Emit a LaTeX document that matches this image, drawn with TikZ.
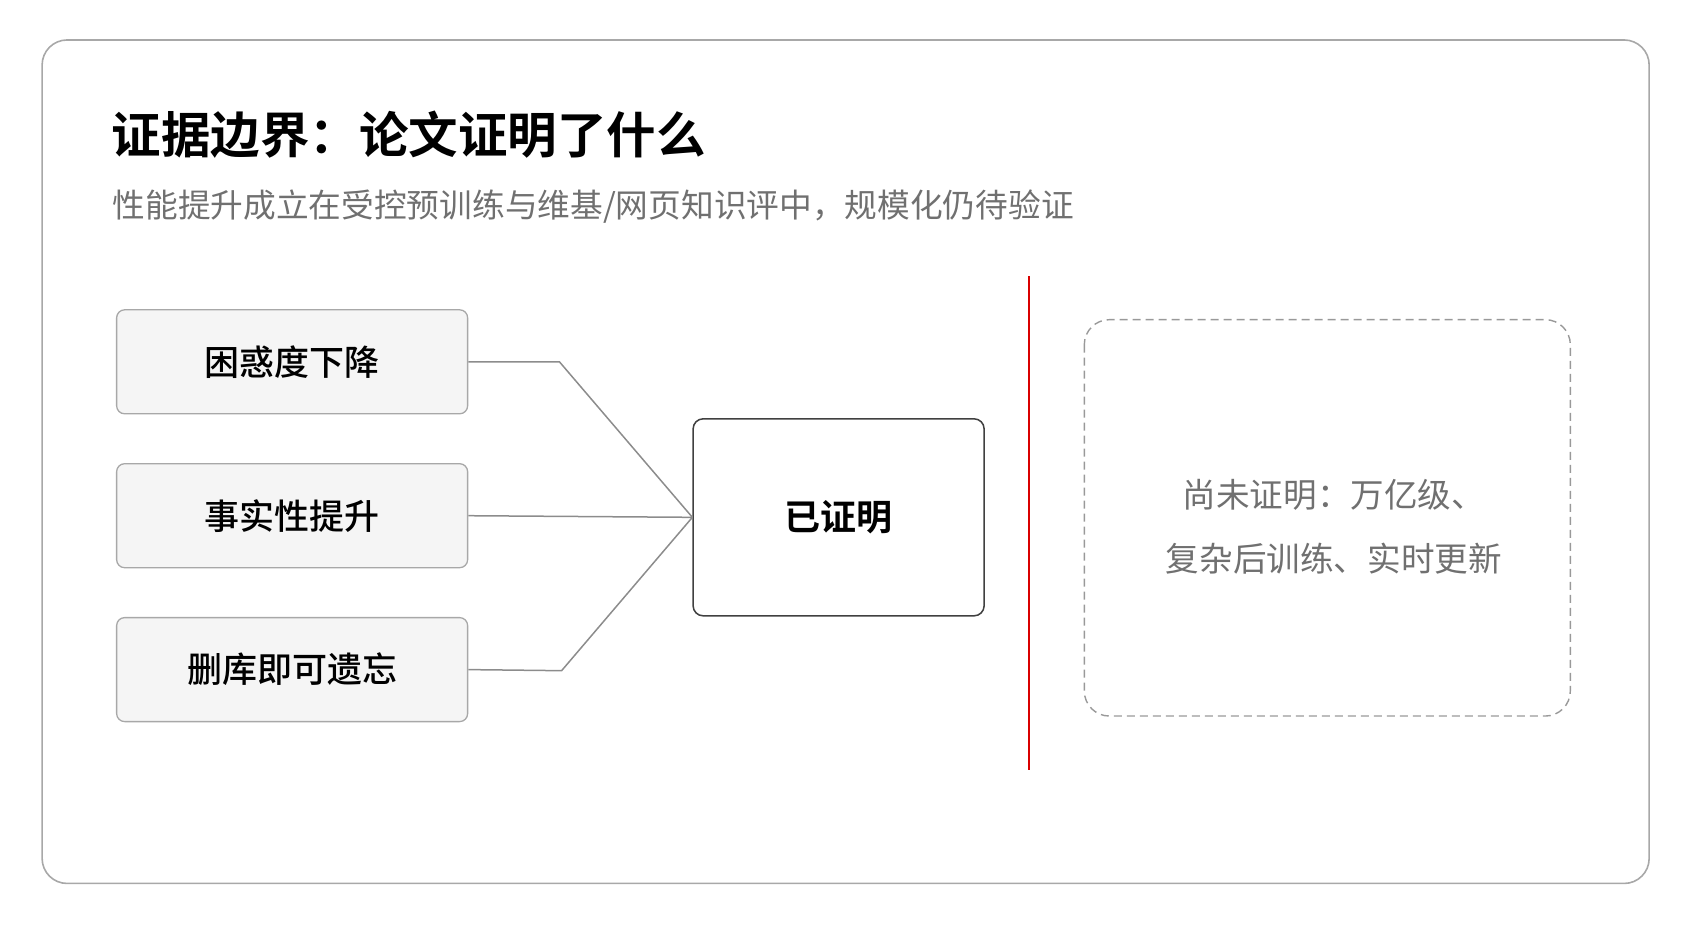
\documentclass[tikz,border=0pt]{standalone}
\usepackage{fontspec}
\setmainfont{Noto Sans CJK SC}
\newfontfamily\cjkbold{Noto Sans CJK SC Bold}
\newfontfamily\cjkmed{Noto Sans CJK SC Medium}
\usetikzlibrary{positioning}
\definecolor{boxline}{HTML}{A8A8A8}
\definecolor{subgray}{HTML}{707070}
\tikzset{
x=1.08pt, y=-1.08pt,
claim/.style={draw=boxline, line width=1.3pt, fill=gray!8, rounded corners=8pt, minimum width=351pt, minimum height=104pt, font=\cjkmed\fontsize{35}{39}\selectfont}, % left boxes
proven/.style={draw=black!75, line width=1.5pt, fill=white, rounded corners=10pt, minimum width=291pt, minimum height=197pt, font=\cjkbold\fontsize{36}{40}\selectfont},
link/.style={draw=gray!90, line width=1.5pt},
}
\begin{document}
\begin{tikzpicture}
\useasboundingbox (0,0) rectangle (1567.6,860.2);
\draw[draw=boxline, line width=1.6pt, rounded corners=25pt] (39,37) rectangle (1527,818);

\node[anchor=west, font=\cjkbold\fontsize{49.5}{54}\selectfont] (title) at (100,125) {证据边界：论文证明了什么};
\node[anchor=west, text=subgray, font=\fontsize{32.7}{36}\selectfont] (sub) at (101,191) {性能提升成立在受控预训练与维基/网页知识评中，规模化仍待验证};

\node[claim] (ppl) at (270.5,335) {困惑度下降};
\node[claim] (fact) at (270.5,477.5) {事实性提升};
\node[claim] (forget) at (270.5,620) {删库即可遗忘};
\node[proven] (done) at (776.5,479) {已证明};

\coordinate (k1) at (518,335);
\coordinate (k3) at (520,621);
\draw[link] (ppl.east) -- (k1) -- (done.west);
\draw[link] (fact.east) -- (done.west);
\draw[link] (forget.east) -- (k3) -- (done.west);

\coordinate (rtop) at (953,256);
\coordinate (rbot) at (953,713);
\draw[red!85!black, line width=1.8pt] (rtop) -- (rbot);

\draw[draw=gray!80, line width=1.4pt, dash pattern=on 8pt off 5pt, rounded corners=25pt] (1004,296) rectangle (1454,663);
\node[text=subgray, align=center, font=\fontsize{33.6}{64}\selectfont] (open) at (1235,488) {尚未证明：万亿级、\\复杂后训练、实时更新};
\end{tikzpicture}
\end{document}
